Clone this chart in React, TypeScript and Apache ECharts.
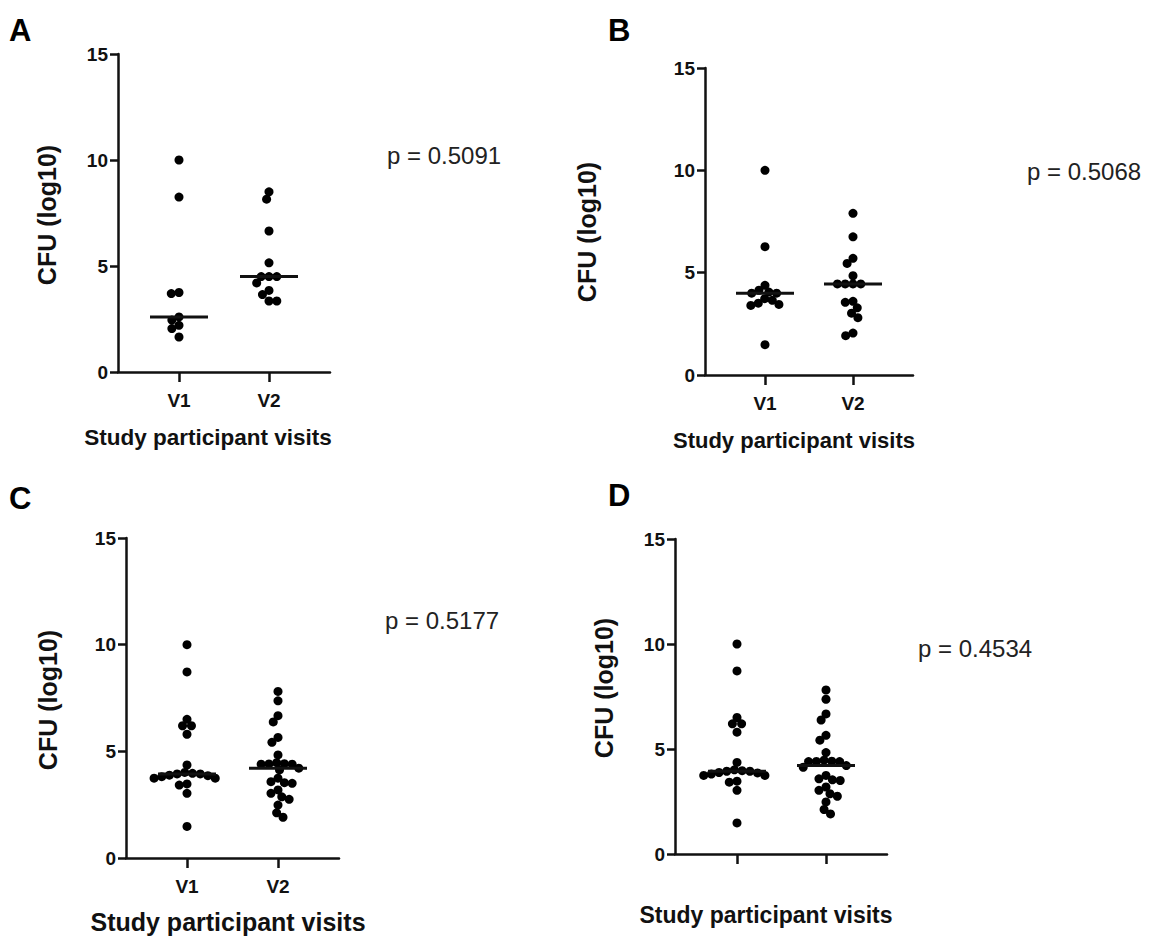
import React, { useEffect, useRef } from "react";
import * as echarts from "echarts";

// ---------- data ----------
const CATEGORIES = ["V1", "V2"];
const Y_TICKS = [0, 5, 10, 15];

const A_V1 = [10.0, 8.25, 3.75, 3.7, 2.6, 2.45, 2.2, 2.05, 1.65];
const A_V2 = [8.5, 8.15, 6.65, 5.15, 4.5, 4.5, 4.5, 4.2, 3.85, 3.65, 3.35, 3.35];

const B_V1 = [10.0, 6.27, 4.38, 4.14, 4.05, 4.0, 4.0, 3.73, 3.65, 3.51, 3.45, 3.4, 1.48];
const B_V2 = [7.9, 6.75, 5.7, 5.45, 4.85, 4.45, 4.45, 4.45, 4.45, 3.6, 3.55, 3.28, 3.02, 2.8, 2.05, 1.92];

const C_V1 = [10.0, 8.72, 6.5, 6.2, 6.2, 5.8, 4.36, 4.01, 3.97, 3.94, 3.94, 3.88, 3.86, 3.81, 3.74, 3.74, 3.47, 3.42, 3.03, 1.48];
const C_V2 = [7.81, 7.37, 6.67, 6.38, 5.65, 5.42, 4.83, 4.47, 4.42, 4.41, 4.4, 4.4, 4.21, 4.13, 3.74, 3.58, 3.53, 3.5, 3.19, 3.03, 2.87, 2.75, 2.48, 2.12, 1.91];

const D_V1 = [10.0, 8.72, 6.5, 6.2, 6.2, 5.8, 4.36, 4.01, 3.97, 3.94, 3.94, 3.88, 3.86, 3.81, 3.74, 3.74, 3.47, 3.42, 3.03, 1.48];
const D_V2 = [7.81, 7.37, 6.67, 6.38, 5.65, 5.42, 4.83, 4.47, 4.42, 4.41, 4.4, 4.4, 4.21, 4.13, 3.74, 3.58, 3.53, 3.5, 3.19, 3.03, 2.87, 2.75, 2.48, 2.12, 1.91];

const P_VALUES = ["p = 0.5091", "p = 0.5068", "p = 0.5177", "p = 0.4534"];
const PANEL_LETTERS = ["A", "B", "C", "D"];
const Y_TITLE = "CFU (log10)";
const X_TITLE = "Study participant visits";

// ---------- layout ----------
const FONT = "'Liberation Sans', Arial, Helvetica, sans-serif";
const DOT = 9;
const GAP = 7.8; // collision distance used for the swarm (dots overlap slightly)

type Panel = {
  v1: number[];
  v2: number[];
  left: number;
  top: number;
  width: number;
  height: number;
  xV1: number;
  xV2: number;
  showCatLabels: boolean;
  letterPos: [number, number];
  pPos: [number, number];
  yTitlePos: [number, number];
  xTitlePos: [number, number];
  xTitleSize: number;
};

const PANELS: Panel[] = [
  { v1: A_V1, v2: A_V2, left: 118, top: 54, width: 212, height: 318, xV1: 179, xV2: 269, showCatLabels: true,
    letterPos: [9, 30], pPos: [387, 155], yTitlePos: [47, 215], xTitlePos: [208, 437], xTitleSize: 22.5 },
  { v1: B_V1, v2: B_V2, left: 705, top: 68, width: 208, height: 307, xV1: 765, xV2: 853, showCatLabels: true,
    letterPos: [608, 30], pPos: [1027, 171], yTitlePos: [587, 232], xTitlePos: [794, 440], xTitleSize: 22 },
  { v1: C_V1, v2: C_V2, left: 126, top: 538, width: 213, height: 320, xV1: 187, xV2: 278, showCatLabels: true,
    letterPos: [9, 498], pPos: [385, 620], yTitlePos: [48, 700], xTitlePos: [228, 922], xTitleSize: 25 },
  { v1: D_V1, v2: D_V2, left: 675, top: 539, width: 212, height: 315, xV1: 737, xV2: 826, showCatLabels: false,
    letterPos: [608, 495], pPos: [918, 648], yTitlePos: [604, 688], xTitlePos: [766, 915], xTitleSize: 23 },
];

// greedy beeswarm in pixel space; returns x offsets in pixels
function swarm(values: number[], pxPerY: number, d: number): number[] {
  const order = values.map((v, i) => i).sort((a, b) => values[b] - values[a]);
  const placed: { x: number; y: number }[] = [];
  const out = new Array(values.length).fill(0);
  for (const i of order) {
    const y = values[i] * pxPerY;
    const cands = [0];
    for (const p of placed) {
      const dy = y - p.y;
      if (Math.abs(dy) < d) {
        const dx = Math.sqrt(d * d - dy * dy);
        cands.push(p.x + dx, p.x - dx);
      }
    }
    cands.sort((a, b) => Math.abs(a) - Math.abs(b) || a - b);
    let chosen = 0;
    for (const c of cands) {
      let ok = true;
      for (const p of placed) {
        const dx = c - p.x;
        const dy = y - p.y;
        if (dx * dx + dy * dy < d * d - 1e-6) { ok = false; break; }
      }
      if (ok) { chosen = c; break; }
    }
    placed.push({ x: chosen, y });
    out[i] = chosen;
  }
  return out;
}

function median(arr: number[]): number {
  const s = [...arr].sort((a, b) => a - b);
  const n = s.length;
  return n % 2 ? s[(n - 1) / 2] : (s[n / 2 - 1] + s[n / 2]) / 2;
}

function buildOption() {
  const grids: any[] = [];
  const xAxes: any[] = [];
  const yAxes: any[] = [];
  const series: any[] = [];
  const graphics: any[] = [];

  PANELS.forEach((p, idx) => {
    const unit = p.xV2 - p.xV1;
    const xmin = 1 - (p.xV1 - p.left) / unit;
    const xmax = 2 + (p.left + p.width - p.xV2) / unit;
    const pxPerY = p.height / 15;

    grids.push({ left: p.left, top: p.top, width: p.width, height: p.height, containLabel: false });
    xAxes.push({
      gridIndex: idx,
      type: "value",
      min: xmin,
      max: xmax,
      splitLine: { show: false },
      axisLine: { show: true, onZero: false, lineStyle: { color: "#111", width: 2.5 } },
      axisTick: { show: true, customValues: [1, 2], length: 10, lineStyle: { color: "#111", width: 2.5 } },
      axisLabel: {
        show: p.showCatLabels,
        customValues: [1, 2],
        formatter: (v: number) => CATEGORIES[Math.round(v) - 1] ?? "",
        color: "#111",
        fontFamily: FONT,
        fontWeight: "bold",
        fontSize: 19,
        margin: 19,
      },
    });
    yAxes.push({
      gridIndex: idx,
      type: "value",
      min: Y_TICKS[0],
      max: Y_TICKS[Y_TICKS.length - 1],
      interval: 5,
      splitLine: { show: false },
      axisLine: { show: true, lineStyle: { color: "#111", width: 2.5 } },
      axisTick: { show: true, length: 8, lineStyle: { color: "#111", width: 2.5 } },
      axisLabel: { color: "#111", fontFamily: FONT, fontWeight: "bold", fontSize: 19, margin: 10 },
    });

    [p.v1, p.v2].forEach((vals, ci) => {
      const center = ci + 1;
      const offs = swarm(vals, pxPerY, GAP);
      series.push({
        type: "scatter",
        xAxisIndex: idx,
        yAxisIndex: idx,
        symbol: "circle",
        symbolSize: DOT,
        itemStyle: { color: "#000", opacity: 1 },
        data: vals.map((v, i) => [center + offs[i] / unit, v]),
        z: 3,
      });
      const med = median(vals);
      const hw = 29 / unit;
      series.push({
        type: "line",
        xAxisIndex: idx,
        yAxisIndex: idx,
        symbol: "none",
        lineStyle: { color: "#111", width: 3 },
        data: [[center - hw, med], [center + hw, med]],
        z: 4,
      });
    });

    graphics.push({
      type: "text",
      x: p.letterPos[0],
      y: p.letterPos[1],
      style: { text: PANEL_LETTERS[idx], font: `bold 31px ${FONT}`, fill: "#000", textAlign: "left", textVerticalAlign: "middle" },
    });
    graphics.push({
      type: "text",
      x: p.pPos[0],
      y: p.pPos[1],
      style: { text: P_VALUES[idx], font: `24px ${FONT}`, fill: "#222", textAlign: "left", textVerticalAlign: "middle" },
    });
    graphics.push({
      type: "text",
      x: p.yTitlePos[0],
      y: p.yTitlePos[1],
      rotation: Math.PI / 2,
      style: { text: Y_TITLE, font: `bold 25px ${FONT}`, fill: "#111", textAlign: "center", textVerticalAlign: "middle" },
    });
    graphics.push({
      type: "text",
      x: p.xTitlePos[0],
      y: p.xTitlePos[1],
      style: { text: X_TITLE, font: `bold ${p.xTitleSize}px ${FONT}`, fill: "#111", textAlign: "center", textVerticalAlign: "middle" },
    });
  });

  return {
    animation: false,
    backgroundColor: "#ffffff",
    grid: grids,
    xAxis: xAxes,
    yAxis: yAxes,
    series,
    graphic: graphics,
  };
}

export default function App() {
  const ref = useRef<HTMLDivElement>(null);
  useEffect(() => {
    if (!ref.current) return;
    const chart = echarts.init(ref.current, undefined, { renderer: "svg" });
    chart.setOption(buildOption() as any);
    return () => chart.dispose();
  }, []);
  return (
    <div
      ref={ref}
      style={{ position: "absolute", left: 0, top: 0, width: 1154, height: 937, background: "#fff" }}
    />
  );
}
